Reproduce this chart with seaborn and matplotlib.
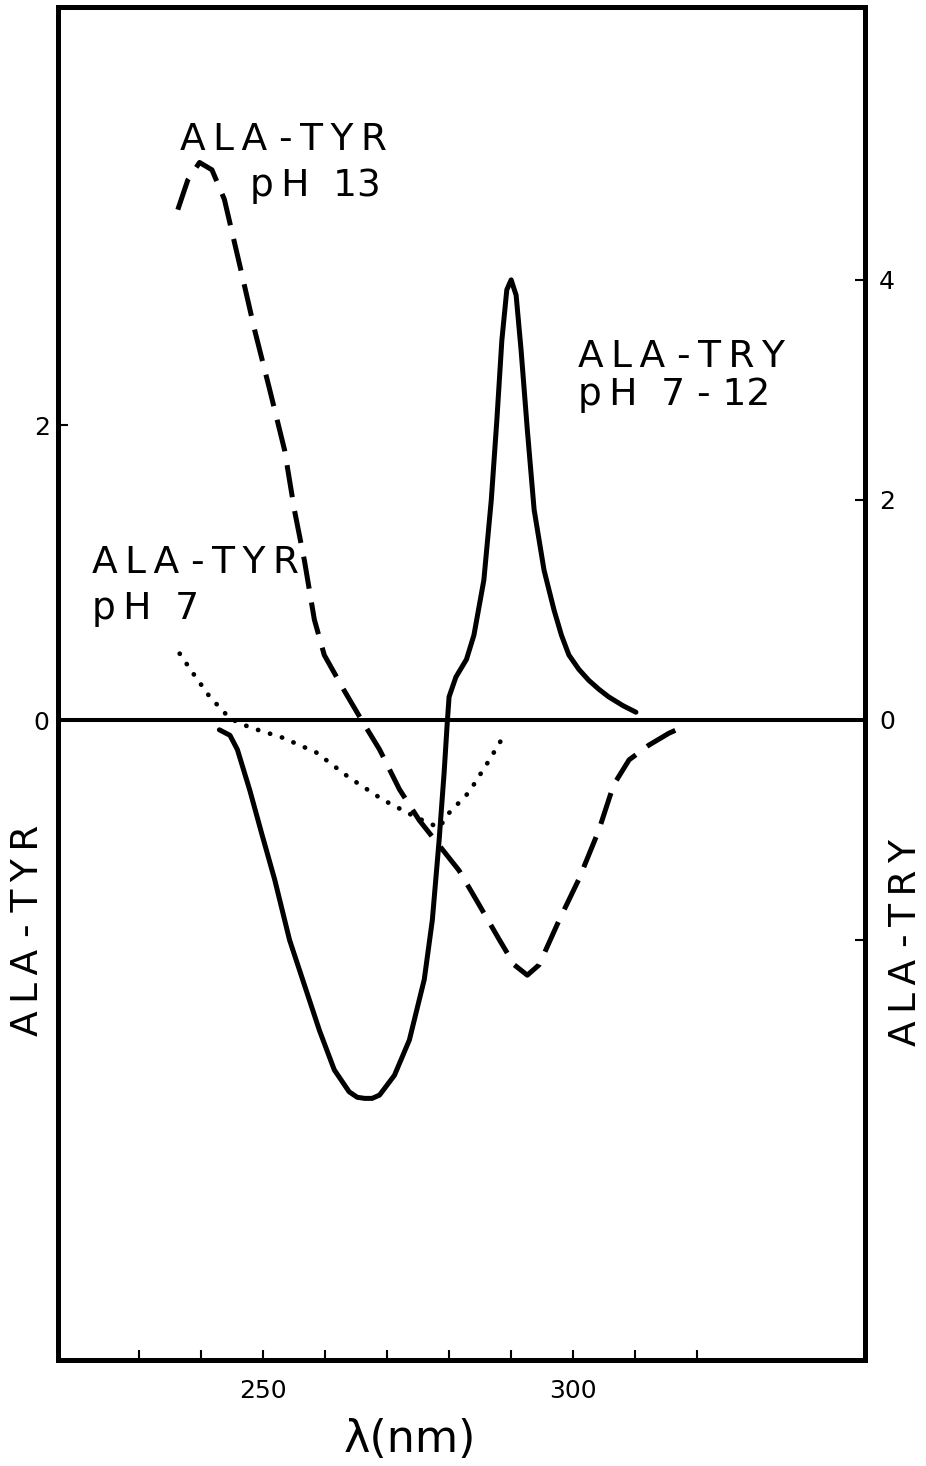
import numpy as np
import seaborn as sns
import matplotlib.pyplot as plt

# wavelength (nm) / CD signal
tyr13_nm = [236.3, 237.9, 239.8, 241.8, 243.8, 246.3, 248.7, 251.1, 253.5, 255.1,
            256.7, 258.3, 259.9, 263.1, 265.9, 268.8, 272.0, 275.2, 278.4, 281.6,
            284.8, 288.1, 290.5, 292.6, 294.5, 297.7, 300.9, 304.1, 306.5, 309.0,
            312.2, 315.4, 317.5]
tyr13_val = [3.46, 3.66, 3.78, 3.73, 3.53, 3.08, 2.64, 2.24, 1.83, 1.42,
             1.08, 0.68, 0.44, 0.20, 0.00, -0.20, -0.47, -0.68, -0.85, -1.02,
             -1.25, -1.49, -1.66, -1.73, -1.66, -1.36, -1.08, -0.75, -0.44, -0.27,
             -0.17, -0.09, -0.05]

tyr7_nm = [236.6, 238.7, 241.4, 244.7, 247.9, 253.2, 258.6, 263.9, 269.3, 274.7,
           278.4, 280.0, 283.2, 286.5, 289.2]
tyr7_val = [0.45, 0.32, 0.16, 0.01, -0.05, -0.12, -0.22, -0.39, -0.54, -0.66,
            -0.73, -0.63, -0.49, -0.27, -0.08]

try_nm = [243.0, 244.7, 245.9, 247.9, 249.8, 251.9, 254.3, 256.7, 259.1, 261.5,
          263.9, 265.2, 266.4, 267.6, 268.8, 271.2, 273.6, 276.0, 277.3, 278.4,
          279.2, 279.7, 280.0, 281.1, 282.8, 284.0, 285.6, 286.8, 287.7, 288.5,
          289.3, 290.0, 290.8, 291.6, 292.6, 293.7, 295.3, 296.9, 298.1, 299.3,
          300.9, 302.5, 304.1, 305.7, 308.0, 310.1]
try_val = [-0.09, -0.14, -0.27, -0.64, -1.03, -1.45, -2.00, -2.41, -2.82, -3.18,
           -3.38, -3.43, -3.44, -3.44, -3.41, -3.23, -2.91, -2.36, -1.82, -1.09,
           -0.48, -0.03, 0.21, 0.39, 0.55, 0.77, 1.27, 2.00, 2.73, 3.45,
           3.91, 4.00, 3.86, 3.36, 2.64, 1.91, 1.36, 1.00, 0.77, 0.59,
           0.46, 0.36, 0.28, 0.21, 0.13, 0.07]

x_ticks = [230, 240, 250, 260, 270, 280, 290, 300, 310, 320]
x_labels = ['', '', '250', '', '', '', '', '300', '', '']
left_ticks = [0, 2]
right_ticks = [-2, 0, 2, 4]
right_labels = ['', '0', '2', '4']


def spaced(s):
    # loose letter spacing like the original lettering (digits kept tight)
    out = ''
    for i, c in enumerate(s):
        out += c
        if i < len(s) - 1:
            nxt = s[i + 1]
            if c != ' ' and nxt != ' ' and not (c.isdigit() and nxt.isdigit()):
                out += '\u2009'
    return out


sns.set_style("ticks")
plt.rcParams['font.family'] = ['DejaVu Sans']
plt.rcParams.update({'axes.edgecolor': 'black', 'text.color': 'black',
                     'axes.labelcolor': 'black', 'xtick.color': 'black',
                     'ytick.color': 'black'})

fig = plt.figure(figsize=(9.26, 14.66), dpi=100)
ax = fig.add_axes([58 / 926, 1 - 1360 / 1466, 807 / 926, 1353 / 1466])
ax2 = ax.twinx()

lw = 3.6
sns.lineplot(x=tyr13_nm, y=tyr13_val, ax=ax, color='black', lw=lw,
             linestyle=(0, (6.5, 2.8)), estimator=None, sort=False)
sns.lineplot(x=tyr7_nm, y=tyr7_val, ax=ax, color='black', lw=3.4,
             linestyle=(0, (0.05, 2.6)), dash_capstyle='round',
             estimator=None, sort=False)
sns.lineplot(x=try_nm, y=try_val, ax=ax2, color='black', lw=lw,
             solid_capstyle='round', solid_joinstyle='round',
             estimator=None, sort=False)
ax.axhline(0, color='black', lw=2.9)

ax.set_xlim(217, 347)
ax.set_ylim(-4.339, 4.834)
ax2.set_ylim(-5.818, 6.48)

ax.set_xticks(x_ticks)
ax.set_xticklabels(x_labels, fontsize=18)
ax.set_yticks(left_ticks)
ax.set_yticklabels([str(t) for t in left_ticks], fontsize=18)
ax2.set_yticks(right_ticks)
ax2.set_yticklabels(right_labels, fontsize=18)

ax.tick_params(axis='x', direction='in', length=7, width=1.5, pad=14)
ax.tick_params(axis='y', direction='in', length=7, width=1.5, pad=6)
ax2.tick_params(axis='y', direction='in', length=7, width=1.5, pad=10)

for a in (ax, ax2):
    for s in a.spines.values():
        s.set_linewidth(3.6)
        s.set_visible(True)

fig.text(410 / 926, 1 - 1440 / 1466, 'λ(nm)', fontsize=32,
         ha='center', va='center')
fig.text(28 / 926, 1 - 930 / 1466, spaced('ALA - TYR'), fontsize=27,
         rotation=90, ha='center', va='center')
fig.text(906 / 926, 1 - 943 / 1466, spaced('ALA -TRY'), fontsize=27,
         rotation=90, ha='center', va='center')

tkw = dict(transform=ax.transAxes, fontsize=27, va='baseline', ha='left')
ax.text(0.151, 0.894, spaced('ALA -TYR'), **tkw)
ax.text(0.238, 0.860, spaced('pH  13'), **tkw)
ax.text(0.644, 0.734, spaced('ALA -TRY'), **tkw)
ax.text(0.644, 0.706, spaced('pH  7 - 12'), **tkw)
ax.text(0.042, 0.582, spaced('ALA -TYR'), **tkw)
ax.text(0.042, 0.548, spaced('pH  7'), **tkw)

plt.savefig('out.png', dpi=100)
